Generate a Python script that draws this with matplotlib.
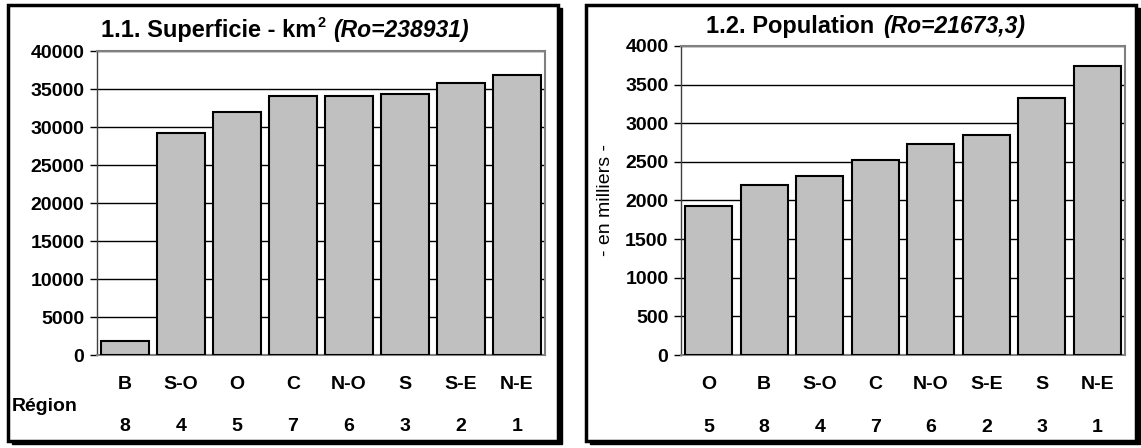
import matplotlib.pyplot as plt
from matplotlib.patches import Rectangle
from matplotlib.transforms import blended_transform_factory

# data
sup_regions = ["B", "S-O", "O", "C", "N-O", "S", "S-E", "N-E"]
sup_codes = ["8", "4", "5", "7", "6", "3", "2", "1"]
sup_values = [1880, 29210, 32010, 34100, 34060, 34320, 35760, 36900]

pop_regions = ["O", "B", "S-O", "C", "N-O", "S-E", "S", "N-E"]
pop_codes = ["5", "8", "4", "7", "6", "2", "3", "1"]
pop_values = [1930, 2200, 2320, 2525, 2735, 2850, 3330, 3740]

W, H = 1141, 448
BAR = "#c0c0c0"
plt.rcParams["font.family"] = ["Liberation Sans", "DejaVu Sans"]

fig = plt.figure(figsize=(W / 100, H / 100), dpi=100)


def px_axes(x0, y0, x1, y1):
    # pixel box (top-left origin) -> figure axes
    return fig.add_axes([x0 / W, 1 - y1 / H, (x1 - x0) / W, (y1 - y0) / H])


def frame(x0, y0, x1, y1):
    sh = Rectangle((x0 + 4, H - y1 - 3), x1 - x0, y1 - y0, transform=None,
                   facecolor="black", edgecolor="black", zorder=-2)
    fr = Rectangle((x0, H - y1), x1 - x0, y1 - y0, transform=None,
                   facecolor="white", edgecolor="black", linewidth=2.5, zorder=-1)
    fig.patches.extend([sh, fr])


frame(8, 5, 558, 441)
frame(586, 5, 1136, 441)


def bar_panel(ax, regions, codes, values, ymax, step):
    x = range(len(values))
    ax.bar(x, values, width=0.84, color=BAR, edgecolor="black", linewidth=1.5, zorder=3)
    ax.set_xlim(-0.5, len(values) - 0.5)
    ax.set_ylim(0, ymax)
    ax.set_yticks(range(0, ymax + 1, step))
    ax.grid(axis="y", color="black", linewidth=1)
    ax.set_axisbelow(True)
    for s in ["top", "right", "bottom"]:
        ax.spines[s].set_color("#808080")
        ax.spines[s].set_linewidth(1.5)
    ax.spines["left"].set_color("#404040")
    ax.spines["left"].set_linewidth(1)
    ax.tick_params(axis="y", length=5, width=1, labelsize=14, pad=4)
    ax.tick_params(axis="x", length=0, labelsize=14, pad=15)
    ax.set_xticks(list(x))
    ax.set_xticklabels(regions, fontweight="bold")
    for lab in ax.get_yticklabels():
        lab.set_fontweight("bold")
    tr = blended_transform_factory(ax.transData, ax.transAxes)
    for i, c in zip(x, codes):
        ax.text(i, -0.235, c, transform=tr, ha="center", va="center",
                fontsize=14, fontweight="bold")


ax1 = px_axes(97, 51, 545, 355)
bar_panel(ax1, sup_regions, sup_codes, sup_values, 40000, 5000)
fig.text(12 / W, 1 - 406 / H, "Région", fontsize=14, fontweight="bold", va="center")
fig.text(101 / W, 1 - 37 / H, "1.1. Superficie - km", fontsize=17,
         fontweight="bold", va="baseline", ha="left")
fig.text(317 / W, 1 - 27 / H, "2", fontsize=10.5,
         fontweight="bold", va="baseline", ha="left")
fig.text(333 / W, 1 - 37 / H, "(Ro=238931)", fontsize=16.5,
         fontweight="bold", style="italic", va="baseline", ha="left")

ax2 = px_axes(681, 46, 1125, 355)
bar_panel(ax2, pop_regions, pop_codes, pop_values, 4000, 500)
ax2.set_ylabel("- en milliers -", fontsize=14, labelpad=8)
fig.text(706 / W, 1 - 33 / H, "1.2. Population", fontsize=17,
         fontweight="bold", va="baseline", ha="left")
fig.text(883 / W, 1 - 33 / H, "(Ro=21673,3)", fontsize=16.5,
         fontweight="bold", style="italic", va="baseline", ha="left")

fig.savefig("out.png", dpi=100)
